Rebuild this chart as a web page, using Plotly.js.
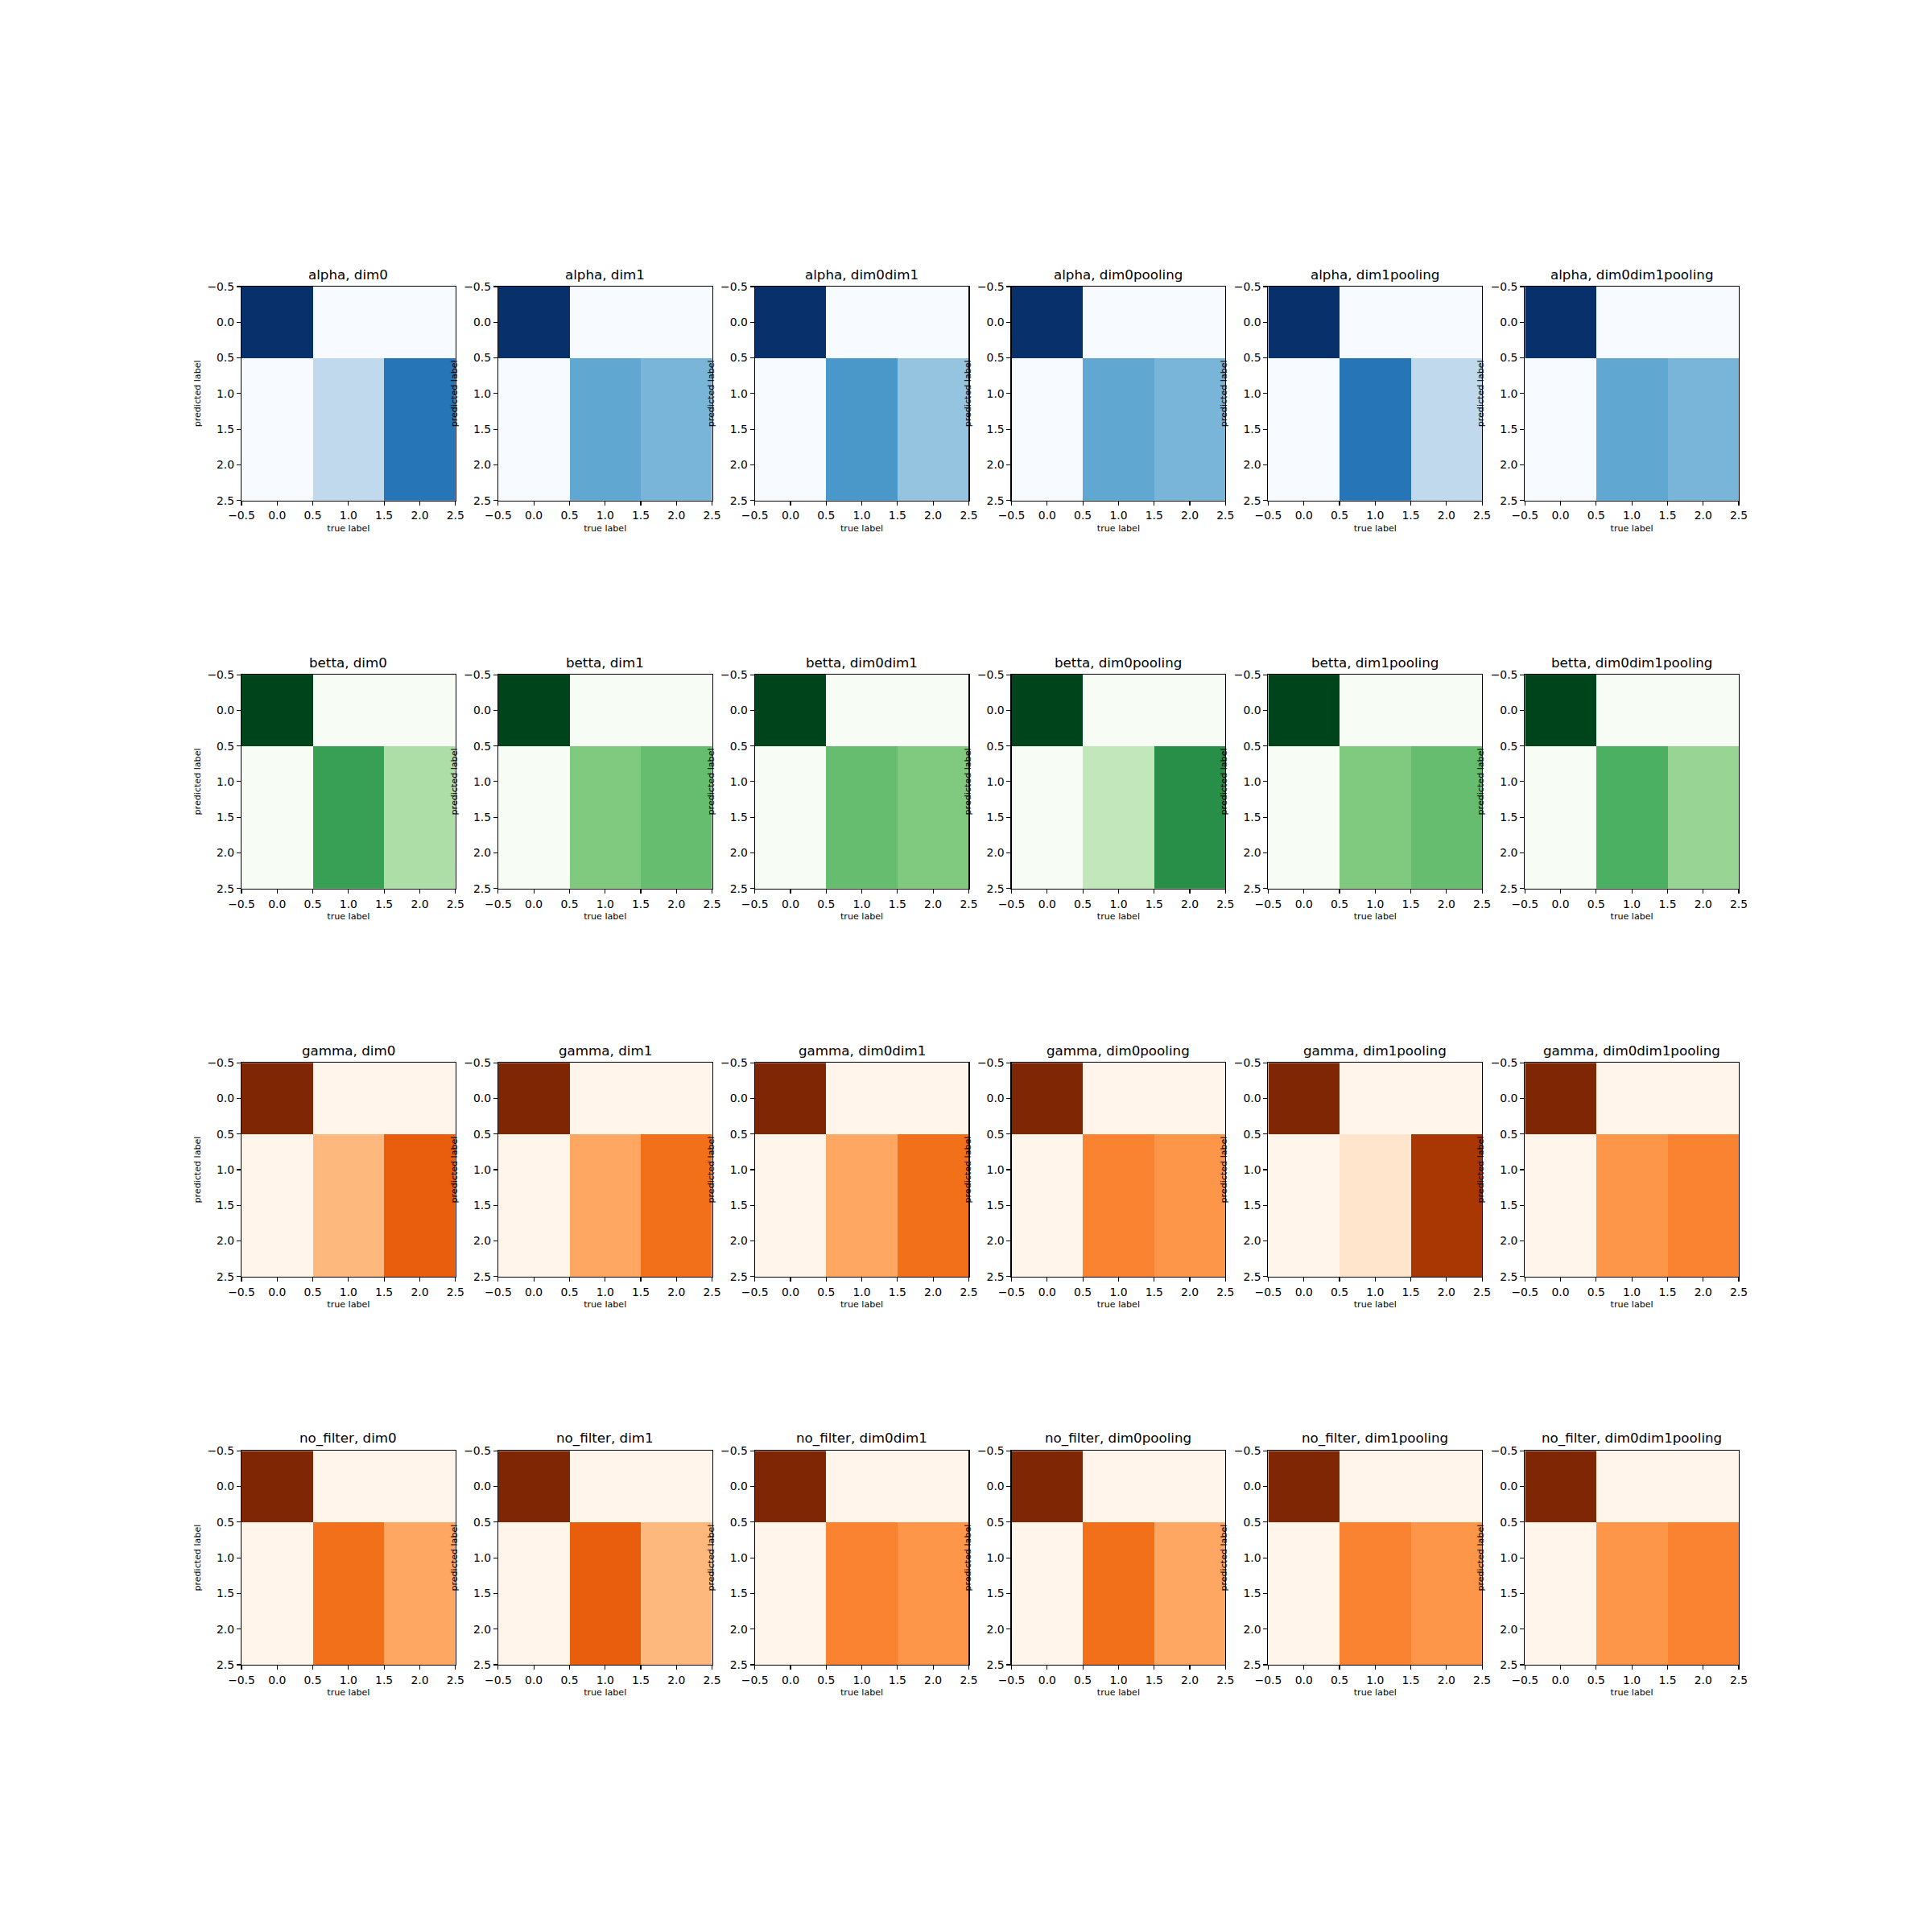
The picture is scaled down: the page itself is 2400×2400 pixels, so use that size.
<!DOCTYPE html>
<html>
<head>
<meta charset="utf-8">
<script src="https://cdn.plot.ly/plotly-3.0.1.min.js"></script>
<style>html,body{margin:0;padding:0;background:#fff;}</style>
</head>
<body>
<div id="chart" style="width:2400px;height:2400px;"></div>
<script>
// ---- data ----
const filters = ['alpha', 'betta', 'gamma', 'no_filter'];
const methods = ['dim0', 'dim1', 'dim0dim1', 'dim0pooling', 'dim1pooling', 'dim0dim1pooling'];
const classLabels = [0, 1, 2];
const class0Count = 15;
// counts in columns 1 and 2 of rows 1 and 2 (per method)
const alphaCol1 = [4, 8, 9, 8, 11, 8];
const alphaCol2 = [11, 7, 6, 7, 4, 7];
const bettaCol1 = [10, 7, 8, 4, 7, 9];
const bettaCol2 = [5, 8, 7, 11, 8, 6];
const gammaCol1 = [5, 6, 6, 8, 2, 7];
const gammaCol2 = [10, 9, 9, 7, 13, 8];
const noFilterCol1 = [9, 10, 8, 9, 8, 7];
const noFilterCol2 = [6, 5, 7, 6, 7, 8];
const tickVals = [-0.5, 0.0, 0.5, 1.0, 1.5, 2.0, 2.5];

// matplotlib colormaps
const Blues = ['#f7fbff','#deebf7','#c6dbef','#9ecae1','#6baed6','#4292c6','#2171b5','#08519c','#08306b'];
const Greens = ['#f7fcf5','#e5f5e0','#c7e9c0','#a1d99b','#74c476','#41ab5d','#238b45','#006d2c','#00441b'];
const Oranges = ['#fff5eb','#fee6ce','#fdd0a2','#fdae6b','#fd8d3c','#f16913','#d94801','#a63603','#7f2704'];
function scale(cols) { return cols.map((c, i) => [i / (cols.length - 1), c]); }

const col1 = [alphaCol1, bettaCol1, gammaCol1, noFilterCol1];
const col2 = [alphaCol2, bettaCol2, gammaCol2, noFilterCol2];
const cmaps = [Blues, Greens, Oranges, Oranges];

// ---- layout geometry (pixels in a 2400 x 2400 figure) ----
const W = 2400, H = 2400;
const axSize = 265.714;
const colLeft0 = 300, colStep = 318.857;
const rowTop0 = 356.0, rowStep = 482.087;
const FONT = 'DejaVu Sans, sans-serif';

const data = [];
const layout = {
  width: W, height: H,
  margin: {l: 0, r: 0, t: 0, b: 0},
  paper_bgcolor: '#fff', plot_bgcolor: '#fff',
  showlegend: false,
  font: {family: FONT, color: '#000'},
  annotations: []
};

let k = 0;
for (let r = 0; r < filters.length; r++) {
  for (let c = 0; c < methods.length; c++) {
    k++;
    const xa = 'x' + (k === 1 ? '' : k), ya = 'y' + (k === 1 ? '' : k);
    const xKey = 'xaxis' + (k === 1 ? '' : k), yKey = 'yaxis' + (k === 1 ? '' : k);
    const z = [
      [class0Count, 0, 0],
      [0, col1[r][c], col2[r][c]],
      [0, col1[r][c], col2[r][c]]
    ];
    data.push({
      type: 'heatmap', x: classLabels, y: classLabels, z: z,
      xaxis: xa, yaxis: ya,
      colorscale: scale(cmaps[r]), zmin: 0, zmax: class0Count,
      showscale: false, hoverinfo: 'skip'
    });
    const left = colLeft0 + c * colStep;
    const top = rowTop0 + r * rowStep;
    const xd = [left / W, (left + axSize) / W];
    const yd = [1 - (top + axSize) / H, 1 - top / H];
    const common = {
      showline: true, mirror: true, linecolor: '#000', linewidth: 1.1,
      ticks: 'outside', ticklen: 5, tickwidth: 1.1, tickcolor: '#000',
      tickmode: 'array', tickvals: tickVals, ticktext: tickVals.map(v => v.toFixed(1).replace('-', '\u2212')),
      tickfont: {family: FONT, size: 13.9, color: '#000'},
      showgrid: false, zeroline: false, automargin: false, fixedrange: true
    };
    layout[xKey] = Object.assign({}, common, {
      domain: xd, anchor: ya, range: [-0.5, 2.5], ticklabelstandoff: 1,
      title: {text: 'true label', font: {family: FONT, size: 11.1, color: '#000'}, standoff: 4}
    });
    layout[yKey] = Object.assign({}, common, {
      domain: yd, anchor: xa, range: [2.5, -0.5],
      title: {text: 'predicted label', font: {family: FONT, size: 11.1, color: '#000'}, standoff: 5}
    });
    layout.annotations.push({
      text: filters[r] + ', ' + methods[c],
      xref: 'paper', yref: 'paper',
      x: (xd[0] + xd[1]) / 2, y: yd[1],
      xanchor: 'center', yanchor: 'bottom', yshift: 3,
      showarrow: false,
      font: {family: FONT, size: 16.7, color: '#000'}
    });
  }
}

Plotly.newPlot('chart', data, layout, {staticPlot: true, displayModeBar: false});
</script>
</body>
</html>
